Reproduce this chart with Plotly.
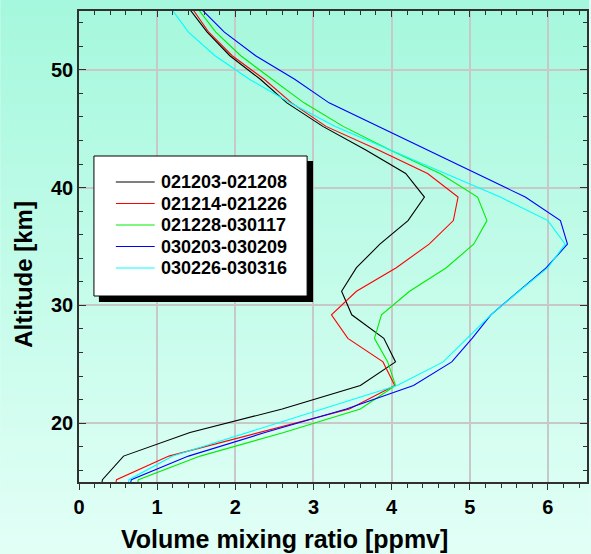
import plotly.graph_objects as go

# Altitude grid of the retrieved profiles [km]
altitude = [13.2, 15.2, 17.2, 19.2, 21.2, 23.2, 25.2, 27.2, 29.2, 31.2, 33.2,
            35.2, 37.2, 39.2, 41.2, 43.2, 45.2, 47.2, 49.2, 51.2, 53.2, 55.2]

# Volume mixing ratio profiles [ppmv], one per averaging period
vmr_021203_021208 = [0.25, 0.30, 0.57, 1.42, 2.60, 3.60, 4.05, 3.90, 3.49, 3.36, 3.55,
                     3.85, 4.21, 4.42, 4.18, 3.67, 3.12, 2.66, 2.32, 1.93, 1.64, 1.41]
vmr_021214_021226 = [0.42, 0.48, 1.15, 2.30, 3.46, 4.04, 3.89, 3.44, 3.23, 3.55, 4.06,
                     4.48, 4.79, 4.85, 4.46, 3.83, 3.16, 2.72, 2.37, 1.96, 1.66, 1.45]
vmr_021228_030117 = [0.68, 0.76, 1.55, 2.62, 3.60, 4.05, 3.95, 3.78, 3.87, 4.23, 4.70,
                     5.05, 5.22, 5.10, 4.62, 3.98, 3.38, 2.88, 2.47, 2.07, 1.75, 1.52]
vmr_030203_030209 = [0.60, 0.67, 1.40, 2.38, 3.42, 4.28, 4.77, 5.03, 5.27, 5.62, 5.98,
                     6.25, 6.16, 5.71, 5.08, 4.45, 3.82, 3.20, 2.76, 2.26, 1.86, 1.56]
vmr_030226_030316 = [0.57, 0.64, 1.20, 2.15, 3.12, 4.07, 4.66, 4.97, 5.27, 5.63, 6.00,
                     6.22, 6.00, 5.39, 4.68, 3.99, 3.28, 2.70, 2.18, 1.74, 1.40, 1.18]

period_labels = ["021203-021208", "021214-021226", "021228-030117",
                 "030203-030209", "030226-030316"]
profiles = [vmr_021203_021208, vmr_021214_021226, vmr_021228_030117,
            vmr_030203_030209, vmr_030226_030316]
colors = ["#000000", "#ff0000", "#00ee00", "#0000ff", "#00ffff"]

W, H = 591, 554
L, R, T, B = 79, 589, 11, 482  # plot-area edges in pixels


def fx(px):
    return (px - L) / (R - L)


def fy(py):
    return (B - py) / (B - T)


BOLD = dict(family="Liberation Sans, Arial, sans-serif", weight="bold", color="black")

fig = go.Figure()
for name, vals, col in zip(period_labels, profiles, colors):
    fig.add_trace(go.Scatter(x=vals, y=altitude, mode="lines", name=name,
                             line=dict(color=col, width=1.1), showlegend=False))
# empty trace so the top (inward-ticked) axis is drawn
fig.add_trace(go.Scatter(x=[], y=[], xaxis="x2", showlegend=False))

shapes = []
# vertical mint gradient behind the whole figure
top_rgb = (165, 248, 221)
bot_rgb = (226, 255, 246)
n = 70
for i in range(n):
    t = i / (n - 1)
    c = tuple(round(a + (b - a) * t) for a, b in zip(top_rgb, bot_rgb))
    y0 = i * H / n
    y1 = (i + 1) * H / n + 1
    shapes.append(dict(type="rect", xref="paper", yref="paper", layer="below",
                       x0=fx(0), x1=fx(W), y0=fy(y1), y1=fy(y0),
                       fillcolor="rgb(%d,%d,%d)" % c, line=dict(width=0)))

# legend box with drop shadow
shapes.append(dict(type="rect", xref="paper", yref="paper", layer="above",
                   x0=fx(99), x1=fx(314), y0=fy(302), y1=fy(161),
                   fillcolor="black", line=dict(width=0)))
shapes.append(dict(type="rect", xref="paper", yref="paper", layer="above",
                   x0=fx(94), x1=fx(308), y0=fy(296), y1=fy(156),
                   fillcolor="white", line=dict(color="black", width=1)))

annotations = []
entry_y = [182, 203.5, 225, 246.5, 268]
for name, col, ey in zip(period_labels, colors, entry_y):
    shapes.append(dict(type="line", xref="paper", yref="paper", layer="above",
                       x0=fx(116), x1=fx(155), y0=fy(ey), y1=fy(ey),
                       line=dict(color=col, width=1.2)))
    annotations.append(dict(text=name, xref="paper", yref="paper", x=fx(159), y=fy(ey),
                            xanchor="left", yanchor="middle", showarrow=False,
                            font=dict(BOLD, size=18)))

# axis titles
annotations.append(dict(text="Volume mixing ratio [ppmv]", xref="paper", yref="paper",
                        x=fx(285), y=fy(539), xanchor="center", yanchor="middle",
                        showarrow=False, font=dict(BOLD, size=25)))
annotations.append(dict(text="Altitude [km]", xref="paper", yref="paper",
                        x=fx(23), y=fy(274.5), xanchor="center", yanchor="middle",
                        textangle=-90, showarrow=False, font=dict(BOLD, size=24)))

axis_common = dict(showline=True, linecolor="#303030", linewidth=1.5,
                   tickcolor="#303030", tickwidth=1.2, zeroline=False)

fig.update_layout(
    width=W, height=H,
    margin=dict(l=L, r=W - R, t=T, b=H - B),
    paper_bgcolor="rgb(226,255,246)",
    plot_bgcolor="rgba(0,0,0,0)",
    shapes=shapes,
    annotations=annotations,
    xaxis=dict(range=[0, 6.5], dtick=1, tick0=0, ticks="outside", ticklen=6,
               showgrid=True, gridcolor="#c8c8c8", gridwidth=1.5,
               tickfont=dict(BOLD, size=20),
               minor=dict(dtick=0.2, ticks="outside", ticklen=4, tickcolor="#303030",
                          showgrid=False),
               **axis_common),
    xaxis2=dict(range=[0, 6.5], overlaying="x", side="top", dtick=1, tick0=0,
                ticks="inside", ticklen=6, showticklabels=False, showgrid=False,
                minor=dict(dtick=0.2, ticks="inside", ticklen=4, tickcolor="#303030"),
                **axis_common),
    yaxis=dict(range=[15, 55], dtick=10, tick0=0, ticks="inside", ticklen=7,
               mirror="ticks", showgrid=True, gridcolor="#c8c8c8", gridwidth=1.5,
               tickfont=dict(BOLD, size=20),
               minor=dict(dtick=2, ticks="inside", ticklen=4, tickcolor="#303030",
                          showgrid=False),
               **axis_common),
)

fig.write_html("out.html")
